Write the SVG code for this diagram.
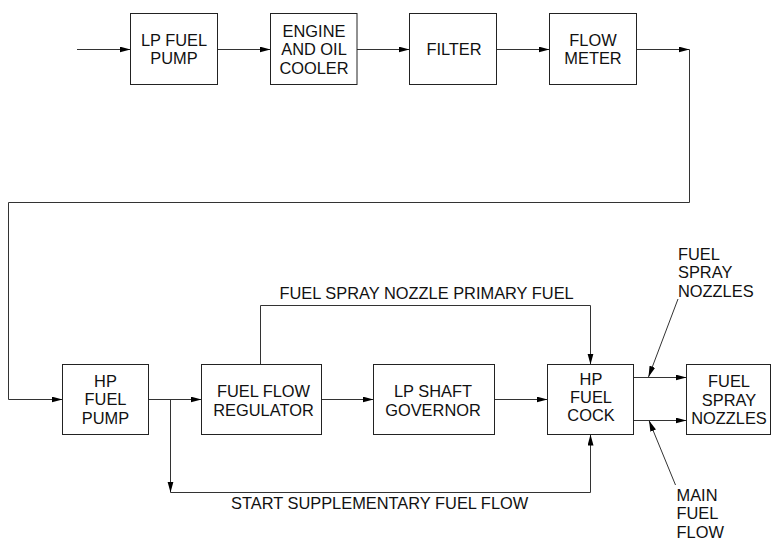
<svg xmlns="http://www.w3.org/2000/svg" width="771" height="539" viewBox="0 0 771 539">
<style>
.box{fill:#fff;stroke:#222;stroke-width:1}
.t{font-family:"Liberation Sans",Arial,sans-serif;font-size:16.4px;fill:#111}
.c{text-anchor:middle}
.ln{fill:none;stroke:#333;stroke-width:1}
</style>
<defs>
<marker id="ah" markerUnits="userSpaceOnUse" markerWidth="12" markerHeight="7" refX="11" refY="3" orient="auto">
<path d="M0,0 L11,3 L0,6 z" fill="#000"/>
</marker>
</defs>
<rect width="771" height="539" fill="#fff"/>
<g id="connectors">
<path class="ln" d="M77,49.5 H130.5" marker-end="url(#ah)"/>
<path class="ln" d="M217.5,49.5 H270.5" marker-end="url(#ah)"/>
<path class="ln" d="M357,49.5 H409.5" marker-end="url(#ah)"/>
<path class="ln" d="M496.5,49.5 H549.5" marker-end="url(#ah)"/>
<path class="ln" d="M636.5,49.5 H689.5" marker-end="url(#ah)"/>
<path class="ln" d="M689.5,49.5 V202.5 H8.5 V399.5 H62.5" marker-end="url(#ah)"/>
<path class="ln" d="M148.5,399.5 H201.5" marker-end="url(#ah)"/>
<path class="ln" d="M170.5,399.5 V492.5" marker-end="url(#ah)"/>
<path class="ln" d="M170.5,492.5 H590.5 V434.5" marker-end="url(#ah)"/>
<path class="ln" d="M321.5,399.5 H373.5" marker-end="url(#ah)"/>
<path class="ln" d="M494.5,399.5 H547.5" marker-end="url(#ah)"/>
<path class="ln" d="M260.5,364.5 V305.5 H590.5 V364.5" marker-end="url(#ah)"/>
<path class="ln" d="M633.5,377.5 H686.5" marker-end="url(#ah)"/>
<path class="ln" d="M633.5,420.5 H686.5" marker-end="url(#ah)"/>
<path class="ln" d="M678,299 L648.5,377" marker-end="url(#ah)"/>
<path class="ln" d="M675.5,485 L649,420.5" marker-end="url(#ah)"/>
</g>
<g id="lp-fuel-pump"><rect class="box" x="130.5" y="13.5" width="87" height="71"/><text class="t c" x="174" y="45.7">LP FUEL</text><text class="t c" x="174" y="64">PUMP</text></g>
<g id="engine-oil-cooler"><rect class="box" x="270.5" y="13.5" width="86.5" height="71"/><text class="t c" x="314" y="36.7">ENGINE</text><text class="t c" x="314" y="55">AND OIL</text><text class="t c" x="314" y="73.5">COOLER</text></g>
<g id="filter"><rect class="box" x="409.5" y="13.5" width="87" height="71"/><text class="t c" x="454" y="55">FILTER</text></g>
<g id="flow-meter"><rect class="box" x="549.5" y="13.5" width="87" height="71"/><text class="t c" x="593" y="45.7">FLOW</text><text class="t c" x="593" y="64">METER</text></g>
<g id="hp-fuel-pump"><rect class="box" x="62.5" y="364.5" width="86" height="70"/><text class="t c" x="105.5" y="386.5">HP</text><text class="t c" x="105.5" y="405">FUEL</text><text class="t c" x="105.5" y="423.5">PUMP</text></g>
<g id="fuel-flow-regulator"><rect class="box" x="201.5" y="364.5" width="120" height="70"/><text class="t c" x="263.5" y="397">FUEL FLOW</text><text class="t c" x="263.5" y="415.5">REGULATOR</text></g>
<g id="lp-shaft-governor"><rect class="box" x="373.5" y="364.5" width="121" height="70"/><text class="t c" x="433" y="397">LP SHAFT</text><text class="t c" x="433" y="415.5">GOVERNOR</text></g>
<g id="hp-fuel-cock"><rect class="box" x="547.5" y="364.5" width="86" height="70"/><text class="t c" x="591" y="384.5">HP</text><text class="t c" x="591" y="403">FUEL</text><text class="t c" x="591" y="421">COCK</text></g>
<g id="fuel-spray-nozzles"><rect class="box" x="686.5" y="364.5" width="84" height="70"/><text class="t c" x="729" y="387">FUEL</text><text class="t c" x="729" y="405.5">SPRAY</text><text class="t c" x="729" y="424">NOZZLES</text></g>
<g id="labels">
<text class="t" x="279.5" y="299">FUEL SPRAY NOZZLE PRIMARY FUEL</text>
<text class="t" x="231" y="509">START SUPPLEMENTARY FUEL FLOW</text>
<text class="t" x="678" y="259.5">FUEL</text>
<text class="t" x="678" y="278">SPRAY</text>
<text class="t" x="678" y="297">NOZZLES</text>
<text class="t" x="676.5" y="500.5">MAIN</text>
<text class="t" x="676.5" y="519">FUEL</text>
<text class="t" x="676.5" y="537.5">FLOW</text>
</g>
</svg>
